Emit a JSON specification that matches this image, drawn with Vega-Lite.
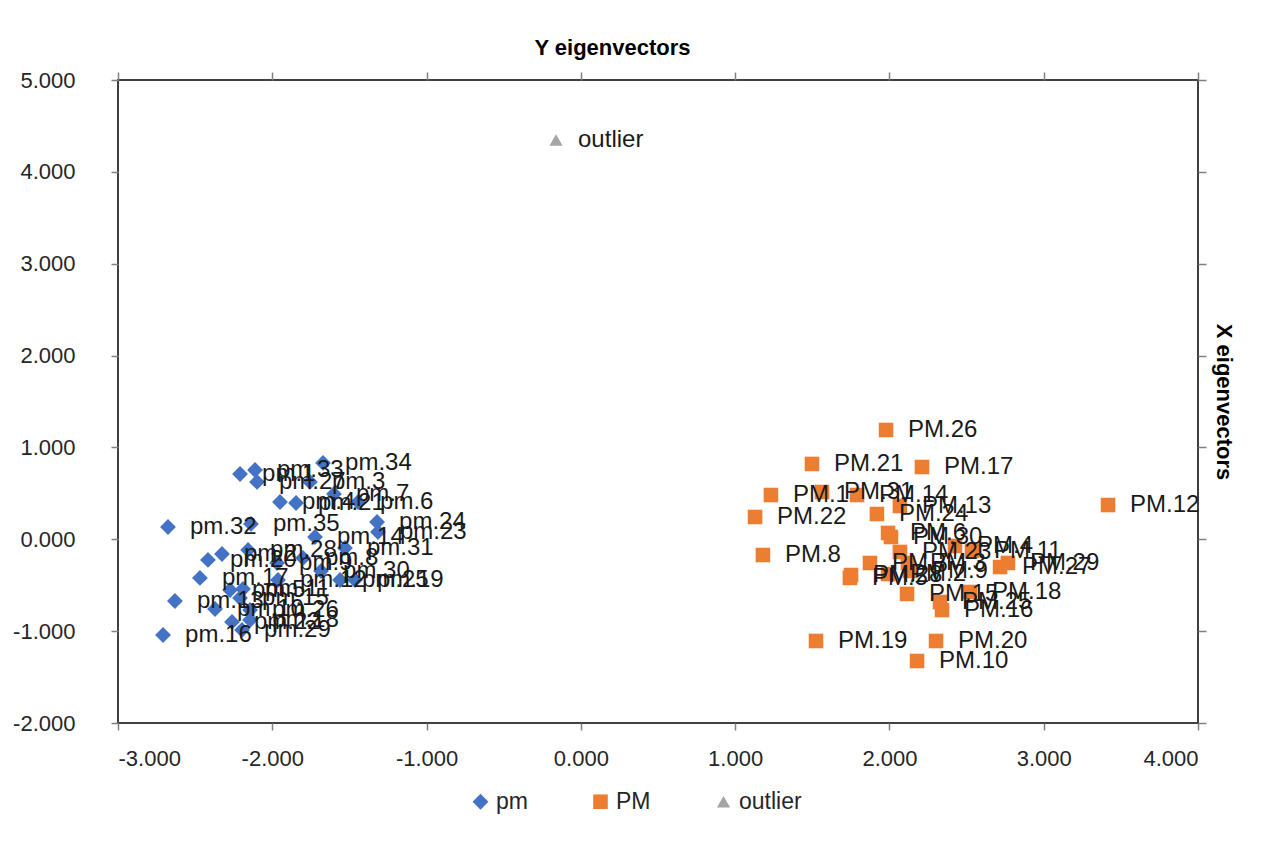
{
  "$schema": "https://vega.github.io/schema/vega-lite/v6.json",
  "width": 1080,
  "height": 643,
  "autosize": "none",
  "padding": {"left": 118, "top": 80, "right": 66, "bottom": 129},
  "background": "white",
  "config": {
    "locale": {"number": {"decimal": ".", "thousands": ",", "grouping": [3], "currency": ["$", ""], "minus": "-"}},
    "view": {"stroke": "#404040", "strokeWidth": 2},
    "font": "Liberation Sans",
    "axis": {"domain": false, "grid": false, "tickColor": "#808080", "tickWidth": 1.5, "labelColor": "#262626", "labelFont": "Liberation Sans", "titleColor": "#000000", "titleFont": "Liberation Sans"}
  },
  "data": {
    "values": [
      {"series": "pm", "label": "pm.1", "x": -2.209, "y": 0.711},
      {"series": "pm", "label": "pm.33", "x": -2.112, "y": 0.754},
      {"series": "pm", "label": "pm.27", "x": -2.099, "y": 0.624},
      {"series": "pm", "label": "pm.34", "x": -1.671, "y": 0.831},
      {"series": "pm", "label": "pm.3", "x": -1.756, "y": 0.624},
      {"series": "pm", "label": "pm.7", "x": -1.600, "y": 0.493},
      {"series": "pm", "label": "pm.4", "x": -1.950, "y": 0.406},
      {"series": "pm", "label": "pm.21", "x": -1.846, "y": 0.395},
      {"series": "pm", "label": "pm.6", "x": -1.444, "y": 0.406},
      {"series": "pm", "label": "pm.32", "x": -2.676, "y": 0.134},
      {"series": "pm", "label": "pm.35", "x": -2.138, "y": 0.167},
      {"series": "pm", "label": "pm.14", "x": -1.723, "y": 0.025},
      {"series": "pm", "label": "pm.24", "x": -1.321, "y": 0.188},
      {"series": "pm", "label": "pm.23", "x": -1.315, "y": 0.079},
      {"series": "pm", "label": "pm.31", "x": -1.529, "y": -0.095},
      {"series": "pm", "label": "pm.2", "x": -2.326, "y": -0.160},
      {"series": "pm", "label": "pm.28", "x": -2.157, "y": -0.116},
      {"series": "pm", "label": "pm.20", "x": -2.417, "y": -0.225},
      {"series": "pm", "label": "pm.9", "x": -1.969, "y": -0.258},
      {"series": "pm", "label": "pm.8", "x": -1.801, "y": -0.204},
      {"series": "pm", "label": "pm.17", "x": -2.469, "y": -0.421},
      {"series": "pm", "label": "pm.12", "x": -1.963, "y": -0.443},
      {"series": "pm", "label": "pm.30", "x": -1.684, "y": -0.345},
      {"series": "pm", "label": "pm.25", "x": -1.561, "y": -0.443},
      {"series": "pm", "label": "pm.19", "x": -1.464, "y": -0.443},
      {"series": "pm", "label": "pm.5", "x": -2.274, "y": -0.552},
      {"series": "pm", "label": "pm.11", "x": -2.190, "y": -0.541},
      {"series": "pm", "label": "pm.15", "x": -2.209, "y": -0.639},
      {"series": "pm", "label": "pm.13", "x": -2.631, "y": -0.672},
      {"series": "pm", "label": "pm.10", "x": -2.371, "y": -0.759},
      {"series": "pm", "label": "pm.26", "x": -2.144, "y": -0.770},
      {"series": "pm", "label": "pm.22", "x": -2.261, "y": -0.900},
      {"series": "pm", "label": "pm.18", "x": -2.144, "y": -0.879},
      {"series": "pm", "label": "pm.29", "x": -2.196, "y": -0.987},
      {"series": "pm", "label": "pm.16", "x": -2.708, "y": -1.042},
      {"series": "PM", "label": "PM.26", "x": 1.978, "y": 1.190},
      {"series": "PM", "label": "PM.21", "x": 1.498, "y": 0.820},
      {"series": "PM", "label": "PM.17", "x": 2.211, "y": 0.787},
      {"series": "PM", "label": "PM.1", "x": 1.232, "y": 0.482},
      {"series": "PM", "label": "PM.31", "x": 1.563, "y": 0.515},
      {"series": "PM", "label": "PM.14", "x": 1.790, "y": 0.482},
      {"series": "PM", "label": "PM.13", "x": 2.068, "y": 0.363},
      {"series": "PM", "label": "PM.24", "x": 1.919, "y": 0.275},
      {"series": "PM", "label": "PM.22", "x": 1.129, "y": 0.243},
      {"series": "PM", "label": "PM.12", "x": 3.417, "y": 0.373},
      {"series": "PM", "label": "PM.6", "x": 1.991, "y": 0.069},
      {"series": "PM", "label": "PM.30", "x": 2.010, "y": 0.025},
      {"series": "PM", "label": "PM.8", "x": 1.180, "y": -0.171},
      {"series": "PM", "label": "PM.23", "x": 2.068, "y": -0.138},
      {"series": "PM", "label": "PM.7", "x": 1.874, "y": -0.258},
      {"series": "PM", "label": "PM.3", "x": 2.120, "y": -0.258},
      {"series": "PM", "label": "PM.4", "x": 2.425, "y": -0.073},
      {"series": "PM", "label": "PM.11", "x": 2.535, "y": -0.127},
      {"series": "PM", "label": "PM.29", "x": 2.768, "y": -0.258},
      {"series": "PM", "label": "PM.27", "x": 2.717, "y": -0.302},
      {"series": "PM", "label": "PM.5", "x": 1.744, "y": -0.421},
      {"series": "PM", "label": "PM.28", "x": 1.751, "y": -0.389},
      {"series": "PM", "label": "PM.2", "x": 1.991, "y": -0.378},
      {"series": "PM", "label": "PM.9", "x": 2.133, "y": -0.345},
      {"series": "PM", "label": "PM.15", "x": 2.114, "y": -0.595},
      {"series": "PM", "label": "PM.18", "x": 2.522, "y": -0.574},
      {"series": "PM", "label": "PM.25", "x": 2.328, "y": -0.683},
      {"series": "PM", "label": "PM.16", "x": 2.341, "y": -0.770},
      {"series": "PM", "label": "PM.19", "x": 1.524, "y": -1.107},
      {"series": "PM", "label": "PM.20", "x": 2.302, "y": -1.107},
      {"series": "PM", "label": "PM.10", "x": 2.179, "y": -1.325},
      {"series": "outlier", "label": "outlier", "x": -0.161, "y": 4.347}
    ]
  },
  "resolve": {"axis": {"x": "independent", "y": "independent"}},
  "layer": [
    {
      "mark": {"type": "point", "filled": true, "opacity": 1},
      "encoding": {
        "x": {"field": "x", "type": "quantitative", "scale": {"domain": [-3, 4], "nice": false, "zero": false},
          "axis": {"orient": "bottom", "values": [-3, -2, -1, 0, 1, 2, 3, 4], "format": ".3f", "title": null, "tickSize": 7, "labelPadding": 18, "labelFontSize": 22}},
        "y": {"field": "y", "type": "quantitative", "scale": {"domain": [-2, 5], "nice": false, "zero": false},
          "axis": {"orient": "left", "values": [-2, -1, 0, 1, 2, 3, 4, 5], "format": ".3f", "title": null, "tickSize": 7, "labelPadding": 36, "labelFontSize": 22}},
        "size": {"field": "series", "type": "nominal", "scale": {"domain": ["pm", "PM", "outlier"], "range": [250, 175, 175]}, "legend": null},
        "color": {"field": "series", "type": "nominal",
          "scale": {"domain": ["pm", "PM", "outlier"], "range": ["#4472C4", "#ED7D31", "#A5A5A5"]},
          "legend": {"title": null, "orient": "none", "direction": "horizontal", "legendX": 351, "legendY": 710, "labelFontSize": 23, "labelColor": "#262626", "symbolSize": 160, "labelOffset": 4, "columnPadding": 61}},
        "shape": {"field": "series", "type": "nominal",
          "scale": {"domain": ["pm", "PM", "outlier"], "range": ["diamond", "square", "triangle-up"]},
          "legend": {"title": null, "orient": "none", "direction": "horizontal", "legendX": 351, "legendY": 710, "labelFontSize": 23, "labelColor": "#262626", "symbolSize": 160, "labelOffset": 4, "columnPadding": 61}}
      }
    },
    {
      "mark": {"type": "text", "align": "left", "baseline": "middle", "dx": 22, "fontSize": 24, "color": "#1a1a1a", "font": "Liberation Sans"},
      "encoding": {
        "x": {"field": "x", "type": "quantitative", "scale": {"domain": [-3, 4], "nice": false, "zero": false},
          "axis": {"orient": "top", "values": [-3, -2, -1, 0, 1, 2, 3, 4], "labels": false, "tickSize": 8, "title": "Y eigenvectors", "titleFontSize": 22, "titleFontWeight": "bold", "titlePadding": 12, "titleX": 494, "titleAlign": "center"}},
        "y": {"field": "y", "type": "quantitative", "scale": {"domain": [-2, 5], "nice": false, "zero": false},
          "axis": {"orient": "right", "values": [-2, -1, 0, 1, 2, 3, 4, 5], "labels": false, "tickSize": 8, "title": "X eigenvectors", "titleFontSize": 22, "titleFontWeight": "bold", "titlePadding": 5}},
        "text": {"field": "label", "type": "nominal"}
      }
    }
  ]
}
